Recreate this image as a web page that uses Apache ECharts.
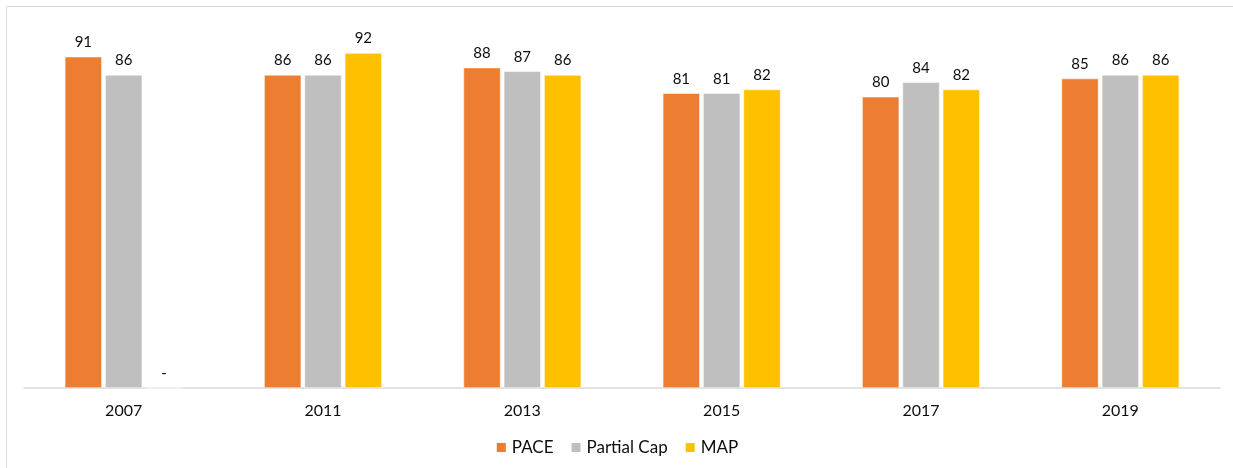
<!DOCTYPE html>
<html>
<head>
<meta charset="utf-8">
<script src="https://cdn.jsdelivr.net/npm/echarts@6/dist/echarts.min.js"></script>
<style>
  html, body { margin: 0; padding: 0; background: #fff; }
  #chart { width: 1233px; height: 468px; }
</style>
</head>
<body>
<div id="chart"></div>
<script>
// Survey years and scores per programme
const years = ['2007', '2011', '2013', '2015', '2017', '2019'];
const pace = [91, 86, 88, 81, 80, 85];
const partialCap = [86, 86, 87, 81, 84, 86];
const map = [0, 92, 86, 82, 82, 86]; // no MAP result in 2007, shown as "-"

const FONT = 'Lato, "Open Sans", sans-serif';
const TEXT = '#0d0d0d';

function barSeries(name, data, color) {
  return {
    name: name,
    type: 'bar',
    data: data,
    barWidth: 37,
    barGap: '9%',
    itemStyle: { color: color, borderColor: '#fff', borderWidth: 0.5 },
    label: {
      show: true,
      position: 'top',
      distance: 7,
      color: TEXT,
      fontFamily: FONT,
      fontSize: 15,
      formatter: p => (p.value === 0 ? '-' : String(p.value))
    }
  };
}

const chart = echarts.init(document.getElementById('chart'), null, { renderer: 'canvas' });
chart.setOption({
  animation: false,
  backgroundColor: '#fff',
  graphic: [{
    type: 'rect',
    shape: { x: 6.5, y: 6.5, width: 1240, height: 480 },
    style: { fill: 'none', stroke: '#d9d9d9', lineWidth: 1 },
    silent: true
  }],
  grid: { left: 24, right: 13, top: 24, bottom: 80, containLabel: false },
  legend: {
    bottom: 7,
    left: 'center',
    itemWidth: 11,
    itemHeight: 11,
    itemGap: 16,
    icon: 'rect',
    textStyle: { color: TEXT, fontFamily: FONT, fontSize: 17 },
    data: ['PACE', 'Partial Cap', 'MAP']
  },
  xAxis: {
    type: 'category',
    data: years,
    axisLine: { lineStyle: { color: '#d9d9d9', width: 1.5 } },
    axisTick: { show: false },
    axisLabel: { color: TEXT, fontFamily: FONT, fontSize: 16, margin: 15 }
  },
  yAxis: {
    type: 'value',
    min: 0,
    max: 100,
    show: false,
    splitLine: { show: false }
  },
  series: [
    barSeries('PACE', pace, '#ED7D31'),
    barSeries('Partial Cap', partialCap, '#BFBFBF'),
    barSeries('MAP', map, '#FFC000')
  ]
});
</script>
</body>
</html>
